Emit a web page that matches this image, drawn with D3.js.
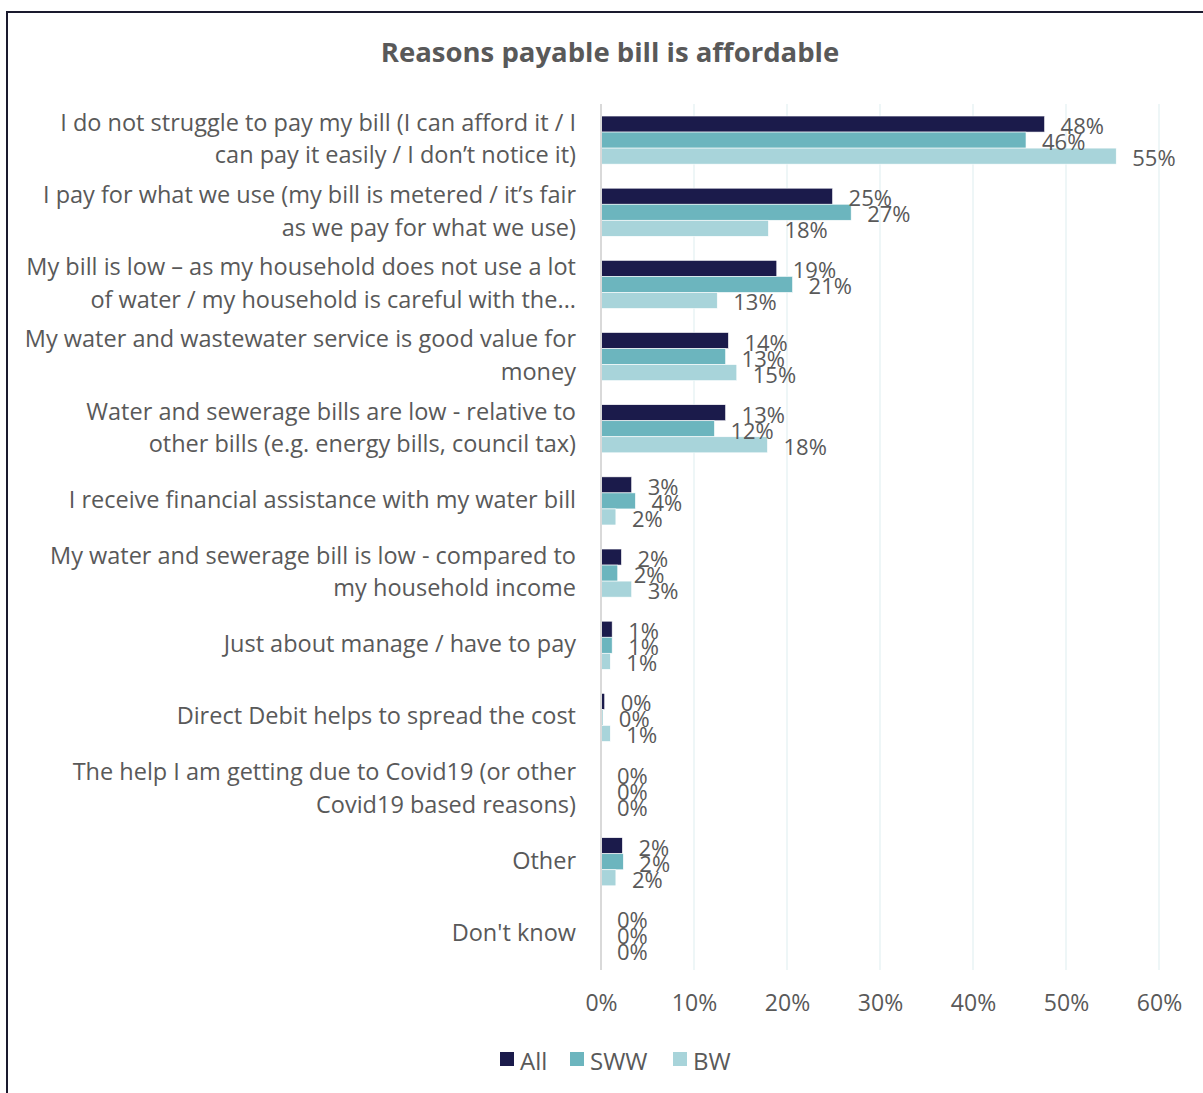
<!DOCTYPE html>
<html>
<head>
<meta charset="utf-8">
<script src="https://cdn.jsdelivr.net/npm/d3@7"></script>
<style>
  html, body { margin: 0; padding: 0; background: #fff; }
  svg { display: block; font-family: "Open Sans", "Noto Sans", sans-serif; }
</style>
</head>
<body>
<svg id="chart" width="1203" height="1093"></svg>
<script>
// Reasons payable bill is affordable — share of respondents, by group
const categories = [
  "I do not struggle to pay my bill (I can afford it / I\ncan pay it easily / I don\u2019t notice it)",
  "I pay for what we use (my bill is metered / it\u2019s fair\nas we pay for what we use)",
  "My bill is low \u2013 as my household does not use a lot\nof water / my household is careful with the...",
  "My water and wastewater service is good value for\nmoney",
  "Water and sewerage bills are low - relative to\nother bills (e.g. energy bills, council tax)",
  "I receive financial assistance with my water bill",
  "My water and sewerage bill is low - compared to\nmy household income",
  "Just about manage / have to pay",
  "Direct Debit helps to spread the cost",
  "The help I am getting due to Covid19 (or other\nCovid19 based reasons)",
  "Other",
  "Don't know"
];
const seriesNames = ["All", "SWW", "BW"];
const allValues = [0.477, 0.249, 0.189, 0.137, 0.134, 0.033, 0.022, 0.012, 0.004, 0, 0.023, 0];
const swwValues = [0.457, 0.269, 0.206, 0.134, 0.122, 0.037, 0.018, 0.012, 0.002, 0, 0.024, 0];
const bwValues  = [0.554, 0.180, 0.125, 0.146, 0.179, 0.016, 0.033, 0.010, 0.010, 0, 0.016, 0];
const xTicks = [0, 0.1, 0.2, 0.3, 0.4, 0.5, 0.6];
const colors = ["#1b1b4b", "#6cb5be", "#a8d4da"];

const values = [allValues, swwValues, bwValues];
const svg = d3.select("#chart");
const textColor = "#595959";
const pct = d3.format(".0%");

// frame
svg.append("rect")
  .attr("x", 7).attr("y", 12)
  .attr("width", 1220).attr("height", 1100)
  .attr("fill", "none").attr("stroke", "#1a1a2e").attr("stroke-width", 2);

// title
svg.append("text")
  .attr("x", 610).attr("y", 51)
  .attr("text-anchor", "middle").attr("dominant-baseline", "central")
  .attr("font-size", 27.5).attr("font-weight", "bold")
  .attr("fill", textColor)
  .text("Reasons payable bill is affordable");

const x = d3.scaleLinear().domain([0, 0.6]).range([601, 1159]);
const y = d3.scaleBand().domain(categories).range([104, 970])
  .paddingInner(1 / 3).paddingOuter(1 / 6);
const ySub = d3.scaleBand().domain(seriesNames).range([0, y.bandwidth()]);

// vertical gridlines
svg.append("g").selectAll("line")
  .data(xTicks.filter(d => d > 0))
  .join("line")
  .attr("x1", d => x(d)).attr("x2", d => x(d))
  .attr("y1", 104).attr("y2", 970)
  .attr("stroke", "#e9f3f4").attr("stroke-width", 1.5);

// x axis tick labels
const xAxis = d3.axisBottom(x).tickValues(xTicks)
  .tickFormat(pct).tickSize(0).tickPadding(25);
const gx = svg.append("g").attr("transform", "translate(0,970)").call(xAxis);
gx.select(".domain").remove();
gx.selectAll("text").attr("font-size", 23).attr("fill", textColor)
  .attr("font-family", "\"Open Sans\", sans-serif");

// bars
const groups = svg.append("g").selectAll("g")
  .data(categories)
  .join("g")
  .attr("transform", d => `translate(0,${y(d)})`);

groups.each(function (cat, i) {
  const g = d3.select(this);
  seriesNames.forEach((s, j) => {
    const v = values[j][i];
    g.append("rect")
      .attr("x", x(0))
      .attr("y", ySub(s))
      .attr("width", x(v) - x(0))
      .attr("height", ySub.bandwidth())
      .attr("fill", colors[j])
      .attr("stroke", "#fff").attr("stroke-width", 0.6);
  });
});

// value labels
groups.each(function (cat, i) {
  const g = d3.select(this);
  seriesNames.forEach((s, j) => {
    const v = values[j][i];
    g.append("text")
      .attr("x", x(v) + 16)
      .attr("y", ySub(s) + ySub.bandwidth() / 2 + 1)
      .attr("dominant-baseline", "central")
      .attr("font-size", 22)
      .attr("fill", textColor)
      .text(pct(v));
  });
});

// zero axis line
svg.append("line")
  .attr("x1", x(0)).attr("x2", x(0))
  .attr("y1", 104).attr("y2", 970)
  .attr("stroke", "#d9d9d9").attr("stroke-width", 2);

// category labels
categories.forEach(cat => {
  const lines = cat.split("\n");
  const cy = y(cat) + y.bandwidth() / 2 - 2;
  const lh = 32.5;
  const t = svg.append("text")
    .attr("text-anchor", "end")
    .attr("font-size", 23.5)
    .attr("fill", textColor);
  lines.forEach((ln, k) => {
    t.append("tspan")
      .attr("x", 576)
      .attr("y", cy + (k - (lines.length - 1) / 2) * lh)
      .attr("dominant-baseline", "central")
      .text(ln);
  });
});

// legend
const legend = svg.append("g").attr("transform", "translate(500,1059)");
const legendX = [0, 70, 173];
seriesNames.forEach((s, j) => {
  const lg = legend.append("g").attr("transform", `translate(${legendX[j]},0)`);
  lg.append("rect").attr("x", 0).attr("y", -7).attr("width", 14).attr("height", 14)
    .attr("fill", colors[j]);
  lg.append("text").attr("x", 20).attr("y", 1)
    .attr("dominant-baseline", "central")
    .attr("font-size", 24).attr("fill", textColor)
    .text(s);
});
</script>
</body>
</html>
